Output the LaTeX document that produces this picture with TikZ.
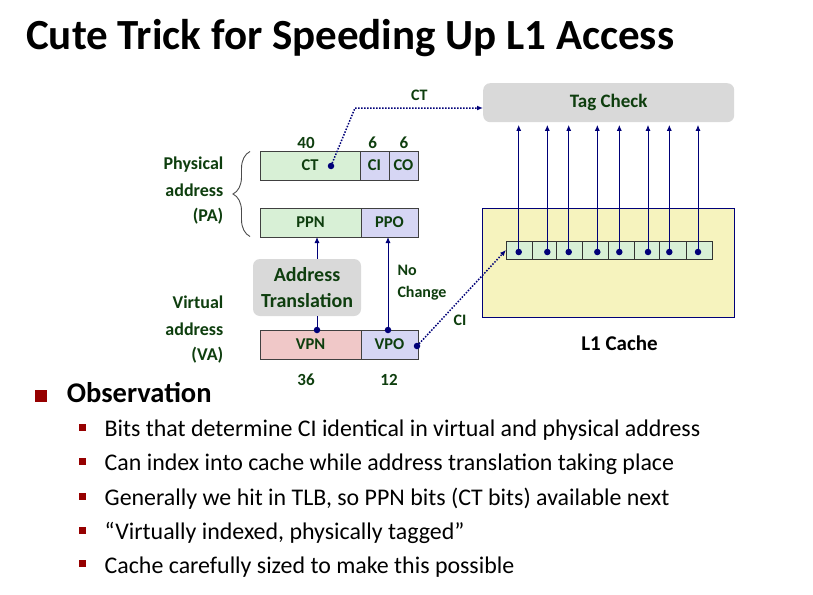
\documentclass[tikz,border=0pt]{standalone}
\usepackage{fontspec}
\setmainfont{Carlito}
\usetikzlibrary{arrows.meta,decorations.pathreplacing,calc}
\definecolor{dgreen}{RGB}{14,62,14}
\definecolor{navy}{RGB}{0,0,120}
\definecolor{fgreen}{RGB}{216,240,214}
\definecolor{flav}{RGB}{214,214,244}
\definecolor{fpink}{RGB}{240,200,200}
\definecolor{fgray}{RGB}{217,217,217}
\definecolor{fyellow}{RGB}{246,243,190}
\definecolor{bred}{RGB}{150,0,0}
\begin{document}
\begin{tikzpicture}[x=1pt,y=-1pt,
  field/.style={draw=black!75, line width=0.9pt, inner sep=0pt, outer sep=0pt, anchor=north west,
    minimum height=29pt, font=\fontsize{16.5}{16.5}\selectfont\bfseries, text=dgreen},
  lbl/.style={inner sep=0pt, font=\fontsize{18}{18}\selectfont\bfseries, text=dgreen},
  num/.style={inner sep=0pt, anchor=base, font=\fontsize{17}{17}\selectfont\bfseries, text=dgreen},
  small/.style={inner sep=0pt, font=\fontsize{16}{16}\selectfont\bfseries, text=dgreen},
  arr/.style={navy, line width=0.9pt, -{Latex[length=6pt,width=5pt]}},
  dotarr/.style={navy, line width=1.5pt, dash pattern=on 1.5pt off 1.5pt, -{Latex[length=6pt,width=5pt]}},
  ball/.style={circle, fill=navy, inner sep=0pt, minimum size=6.5pt},
  cell/.style={draw=black!80, line width=0.8pt, fill=fgreen, inner sep=0pt, outer sep=0pt, anchor=north west, minimum height=18pt},
  bigmark/.style={fill=bred, inner sep=0pt, minimum size=11.7pt},
  smallmark/.style={fill=bred, inner sep=0pt, minimum size=6.8pt},
  bullettext/.style={anchor=base west, inner sep=0pt, font=\fontsize{23.9}{23.9}\selectfont}
]
\useasboundingbox (0,0) rectangle (813,594);
\fill[white] (0,0) rectangle (813,594);

% title
\node[anchor=base west, inner sep=0pt, font=\fontsize{43}{43}\selectfont\bfseries] (title) at (26,50) {Cute Trick for Speeding Up L1 Access};

% physical address fields
\node[field, fill=fgreen, minimum width=100pt] (ct) at (260,151) {CT};
\node[field, fill=flav, minimum width=29pt] (ci) at (360,151) {CI};
\node[field, fill=flav, minimum width=29pt] (co) at (389,151) {CO};
\node[field, fill=fgreen, minimum width=101pt] (ppn) at (260,208) {PPN};
\node[field, fill=flav, minimum width=57pt] (ppo) at (361,208) {PPO};
% virtual address fields
\node[field, fill=fpink, minimum width=101pt] (vpn) at (260,330) {VPN};
\node[field, fill=flav, minimum width=57pt] (vpo) at (361,330) {VPO};

% bit counts
\node[num] (n40) at (306,148.3) {40};
\node[num] (n6a) at (372.7,148.3) {6};
\node[num] (n6b) at (404,148.3) {6};
\node[num] (n36) at (306,385) {36};
\node[num] (n12) at (389,385) {12};

% left labels
\node[lbl, anchor=base east] (pa1) at (223.5,169.3) {Physical};
\node[lbl, anchor=base east] (pa2) at (223.5,196) {address};
\node[lbl, anchor=base east] (pa3) at (223.5,221.7) {(PA)};
\node[lbl, anchor=base east] (va1) at (223.5,308.3) {Virtual};
\node[lbl, anchor=base east] (va2) at (223.5,335) {address};
\node[lbl, anchor=base east] (va3) at (223.5,360.7) {(VA)};
\coordinate (brtop) at (250,151.5);
\coordinate (brbot) at (250,236.5);
\draw[black!70, line width=0.9pt, decorate, decoration={brace, amplitude=17pt}] (brbot) -- (brtop);

% address translation
\node[fill=fgray, rounded corners=7pt, minimum width=108pt, minimum height=57pt, inner sep=0pt,
  align=center, font=\fontsize{20}{25.5}\selectfont\bfseries, text=dgreen] (at) at (307,287.5) {Address\\Translation};

% dots and arrows on the left
\node[ball] (vpndot) at (317,330) {};
\node[ball] (vpodot) at (388,330) {};
\node[ball] (vporight) at (417,346) {};
\node[ball] (ctdot) at (331,166) {};
\draw[navy, line width=0.9pt] (vpndot.center) -- (vpndot.center |- at.south);
\draw[arr] (vpndot.center |- at.north) -- (vpndot.center |- ppn.south);
\draw[arr] (vpodot.center) -- (vpodot.center |- ppo.south);
\node[small, anchor=base west] (nc1) at (397.3,275) {No};
\node[small, anchor=base west] (nc2) at (397.3,297.5) {Change};

% tag check
\node[fill=fgray, rounded corners=7pt, minimum width=251pt, minimum height=39pt, inner sep=0pt,
  anchor=north west, font=\fontsize{19}{19}\selectfont\bfseries, text=dgreen] (tag) at (483,83) {Tag Check};

% L1 cache
\node[draw=navy, line width=1.3pt, fill=fyellow, minimum width=252pt, minimum height=109pt, inner sep=0pt,
  anchor=north west] (cache) at (482,208) {};
\node[anchor=base, inner sep=0pt, font=\fontsize{21}{21}\selectfont\bfseries] (l1) at (619.5,350.7) {L1 Cache};

\foreach \i/\xa/\w/\dx in {1/506/26.7/518.7, 2/532.7/24/547.3, 3/556.7/26/568.7, 4/582.7/26/597.3,
  5/608.7/26/619.3, 6/634.7/24.6/648, 7/659.3/26.7/669.3, 8/686/26.7/698}{
  \node[cell, minimum width=\w pt] (c\i) at (\xa,241) {};
  \node[ball] (d\i) at (\dx,252) {};
  \draw[arr, shorten >=2.5pt] (d\i.center) -- (d\i.center |- tag.south);
}

% dotted connectors
\coordinate (ctbend) at (355,108);
\draw[dotarr] (ctdot.center) -- (ctbend) -- (ctbend -| tag.west);
\node[small, anchor=base] (ctlbl) at (419.3,100.7) {CT};
\draw[dotarr] (vporight.center) -- (c1.west);
\node[small] (cilbl) at (460,320) {CI};

% observation
\node[bigmark] (m0) at (40.8,396) {};
\node[anchor=base west, inner sep=0pt, font=\fontsize{28.5}{28.5}\selectfont\bfseries] (obs) at (66.7,402) {Observation};

\foreach \i/\y/\t in {1/436.7/{Bits that determine CI identical in virtual and physical address},
  2/470.8/{Can index into cache while address translation taking place},
  3/505.5/{Generally we hit in TLB, so PPN bits (CT bits) available next},
  4/539.6/{“Virtually indexed, physically tagged”},
  5/573/{Cache carefully sized to make this possible}}{
  \node[smallmark] (m\i) at (82.6,\y-9.3) {};
  \node[bullettext] (b\i) at (104.5,\y) {\t};
}
\end{tikzpicture}
\end{document}
